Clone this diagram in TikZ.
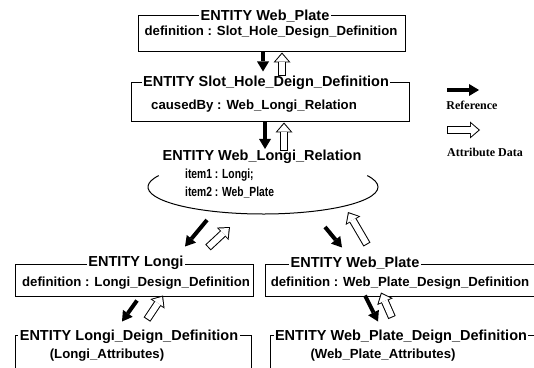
\documentclass[tikz,border=0pt]{standalone}
\usepackage{fontspec}
\setmainfont{Liberation Sans}
\newfontfamily\legendfont{Liberation Serif}
\usetikzlibrary{arrows.meta}
\newcommand{\narrowtext}[1]{\scalebox{0.78}[1]{#1}}

\begin{document}
\begin{tikzpicture}[x=1pt, y=1pt,
    frame/.style={draw, line width=1pt, inner sep=0pt},
    etitle/.style={fill=white, inner sep=1.5pt, font=\fontsize{14.5}{16}\selectfont\bfseries},
    edef/.style={inner sep=1pt, font=\fontsize{13.2}{18}\selectfont\bfseries},
    refarrow/.style={line width=4pt, -{Triangle[length=10pt, width=12pt, line width=0pt]}},
    attrarrow/.style={draw=white, line width=6pt, shorten >=1.6pt, shorten <=1pt,
        -{Triangle[length=7.5pt, width=13pt, line width=0pt]},
        preaction={draw=black, line width=8pt, shorten >=0pt, shorten <=0pt,
        -{Triangle[length=10pt, width=17pt, line width=0pt]}}},
    legend/.style={inner sep=1pt, font=\legendfont\fontsize{12}{14}\selectfont\bfseries}]
    \useasboundingbox (0,0) rectangle (534,367);
    \clip (0,0) rectangle (534,367);

    % Web_Plate entity
    \node[frame, minimum width=267pt, minimum height=36pt] (plate) at (271.5,333) {};
    \node[edef] (platedef) at (271,335) {definition : Slot\_Hole\_Design\_Definition};
    \node[etitle] (platetitle) at (265,351) {ENTITY Web\_Plate};

    % Slot hole definition
    \node[frame, minimum width=278pt, minimum height=39pt] (slot) at (270.5,264.5) {};
    \node[edef] (slotdef) at (254,261) {causedBy : Web\_Longi\_Relation};
    \node[etitle] (slottitle) at (266,284) {ENTITY Slot\_Hole\_Deign\_Definition};

    % Relation
    \coordinate (rel) at (263,180);
    \draw[line width=1pt] ([shift={(155:115pt and 27pt)}]rel) arc[start angle=155, end angle=385, x radius=115pt, y radius=27pt];
    \node[etitle] (reltitle) at (262,210) {ENTITY Web\_Longi\_Relation};
    \node[edef, anchor=west, align=left] (relitems) at (184,183) {\narrowtext{item1 : Longi;}\\\narrowtext{item2 : Web\_Plate}};

    % Longi and Web_Plate entities
    \node[frame, minimum width=238pt, minimum height=32pt] (longi) at (134,87) {};
    \node[edef] (longidef) at (136,84) {definition : Longi\_Design\_Definition};
    \node[etitle] (longititle) at (136,104) {ENTITY Longi};
    \node[frame, minimum width=295pt, minimum height=32pt] (wplate) at (412.5,87) {};
    \node[edef] (wplatedef) at (400,84) {definition : Web\_Plate\_Design\_Definition};
    \node[etitle] (wplatetitle) at (355,104) {ENTITY Web\_Plate};

    % Design definitions
    \node[frame, minimum width=236pt, minimum height=65pt] (ldes) at (133,-0.5) {};
    \node[edef] (ldesattr) at (107,12) {(Longi\_Attributes)};
    \node[etitle] (ldestitle) at (129,30) {ENTITY Longi\_Deign\_Definition};
    \node[frame, minimum width=300pt, minimum height=65pt] (wdes) at (420,-0.5) {};
    \node[edef] (wdesattr) at (383,12) {(Web\_Plate\_Attributes)};
    \node[etitle] (wdestitle) at (401,30) {ENTITY Web\_Plate\_Deign\_Definition};

    % Arrows
    \draw[refarrow] ([xshift=-8.5pt]plate.south) -- ([shift={(-7.5,11)}]slot.north);
    \draw[attrarrow] ([shift={(11.5,6)}]slot.north) -- ([xshift=10.5pt]plate.south);
    \draw[refarrow] ([xshift=-5.5pt]slot.south) -- ([shift={(3,8)}]reltitle.center);
    \draw[attrarrow] ([shift={(22,6)}]reltitle.center) -- ([xshift=13.5pt]slot.south);
    \draw[refarrow] ([shift={(-56,-33)}]rel) -- ([shift={(51,17)}]longi.north);
    \draw[attrarrow] ([shift={(74,16)}]longi.north) -- ([shift={(-33,-40)}]rel);
    \draw[refarrow] ([shift={(62,-40)}]rel) -- ([shift={(-70.5,16)}]wplate.north);
    \draw[attrarrow] ([shift={(-45.5,19)}]wplate.north) -- ([shift={(85,-25)}]rel);
    \draw[refarrow] ([shift={(3,-4)}]longi.south) -- ([shift={(-11,13)}]ldes.north);
    \draw[attrarrow] ([shift={(14,15)}]ldes.north) -- ([shift={(29,1)}]longi.south);
    \draw[refarrow] ([shift={(-47.5,1)}]wplate.south) -- ([shift={(-42,13)}]wdes.north);
    \draw[attrarrow] ([shift={(-28,17)}]wdes.north) -- ([shift={(-31.5,4)}]wplate.south);

    % Legend
    \coordinate (refstart) at (447,277);
    \draw[refarrow] (refstart) -- ++(32,0);
    \node[legend] (reflabel) at (472,262) {Reference};
    \coordinate (attrstart) at (447,237);
    \draw[attrarrow] (attrstart) -- ++(33,0);
    \node[legend] (attrlabel) at (485,215) {Attribute Data};
\end{tikzpicture}
\end{document}
